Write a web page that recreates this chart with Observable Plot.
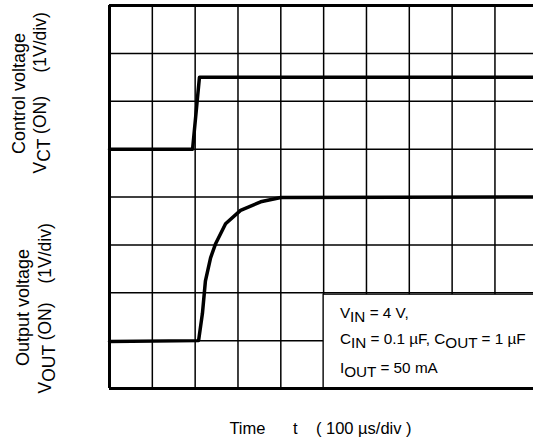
<!DOCTYPE html>
<html><head><meta charset="utf-8">
<script src="https://cdn.jsdelivr.net/npm/d3@7"></script>
<script src="https://cdn.jsdelivr.net/npm/@observablehq/plot@0.6"></script>
<style>
body{margin:0;background:#fff}
svg{font-family:"Liberation Sans",Arial,sans-serif}
</style>
</head><body><div id="chart"></div>
<script>
// Screen units: time in divisions (100 µs/div), voltage in divisions (1 V/div)
const ctTime   = [0, 1.94, 2.10, 9.9];
const ctLevel  = [5.0, 5.0, 6.5, 6.5];
const outTime  = [0, 2.08, 2.17, 2.24, 2.36, 2.48, 2.71, 3.06, 3.53, 4.0, 9.9];
const outLevel = [0.98, 1.0, 1.57, 2.25, 2.73, 3.03, 3.44, 3.72, 3.90, 3.99, 4.0];
const xDivs = [0, 1, 2, 3, 4, 5, 6, 7, 8, 9, 10];
const yDivs = [0, 1, 2, 3, 4, 5, 6, 7, 8];
const legendLines = ["V_IN_ = 4 V,", "C_IN_ = 0.1 µF, C_OUT_ = 1 µF", "I_OUT_ = 50 mA"];
const legendLevels = [1.48, 0.92, 0.33];
const ctLabel = ["Control voltage", "V_CT_ (ON)", "(1V/div)"];
const outLabel = ["Output voltage", "V_OUT_ (ON)", "(1V/div)"];
const xLabel = "Time\u00a0\u00a0\u00a0\u00a0\u00a0\u00a0t\u00a0\u00a0\u00a0\u00a0( 100 µs/div )";

const ctData = ctTime.map((t, i) => ({t, v: ctLevel[i]}));
const outData = outTime.map((t, i) => ({t, v: outLevel[i]}));
const legendData = legendLines.map((s, i) => ({s, y: legendLevels[i]}));

const label = (text, dx, dy, anchor, size) => Plot.text([text], {
  text: d => d, frameAnchor: "top-left", dx, dy, rotate: -90,
  textAnchor: anchor, lineAnchor: "middle", fontSize: size, fill: "#000"
});

const chart = Plot.plot({
  width: 533, height: 441,
  marginLeft: 109, marginTop: 5, marginBottom: 53, marginRight: 0,
  x: {domain: [0, 9.9], axis: null},
  y: {domain: [0, 8], axis: null},
  marks: [
    Plot.ruleX(xDivs, {stroke: "#000", strokeWidth: 1.5}),
    Plot.ruleY(yDivs, {stroke: "#000", strokeWidth: 1.5}),
    Plot.line(ctData, {x: "t", y: "v", stroke: "#000", strokeWidth: 3.5}),
    Plot.line(outData, {x: "t", y: "v", stroke: "#000", strokeWidth: 3.5}),
    Plot.rect([0], {x1: 5.0, x2: 10, y1: 0, y2: 1.96, fill: "#fff", stroke: "#000", strokeWidth: 1.3}),
    Plot.text(legendData, {x: 5.38, y: "y", text: "s", textAnchor: "start", lineAnchor: "bottom", fontSize: 15.3, fill: "#000"}),
    Plot.ruleX([0], {stroke: "#000", strokeWidth: 3}),
    Plot.ruleY([0, 8], {stroke: "#000", strokeWidth: 3}),
    label(ctLabel[0], -90.5, 88, "middle", 18),
    label(ctLabel[1], -69, 168, "start", 17.5),
    label(ctLabel[2], -69, 67, "start", 17.5),
    label(outLabel[0], -86.5, 302, "middle", 18),
    label(outLabel[1], -64, 388, "start", 17.5),
    label(outLabel[2], -64, 278, "start", 17.5),
    Plot.text([xLabel], {text: d => d, frameAnchor: "top-left", dx: 211, dy: 428, textAnchor: "middle", lineAnchor: "bottom", fontSize: 16.5, fill: "#000"})
  ]
});

// render subscripts marked with _..._
d3.select(chart).selectAll("text").each(function() {
  const s = this.textContent;
  if (!s.includes("_")) return;
  const el = d3.select(this);
  el.text(null);
  const parts = s.split("_");
  parts.forEach((p, i) => {
    if (!p) return;
    const sub = i % 2 === 1;
    const ts = el.append("tspan").text(p);
    if (sub) ts.attr("dy", "4");
    else if (i > 0) ts.attr("dy", "-4");
  });
});

document.getElementById("chart").appendChild(chart);
</script>
</body></html>
